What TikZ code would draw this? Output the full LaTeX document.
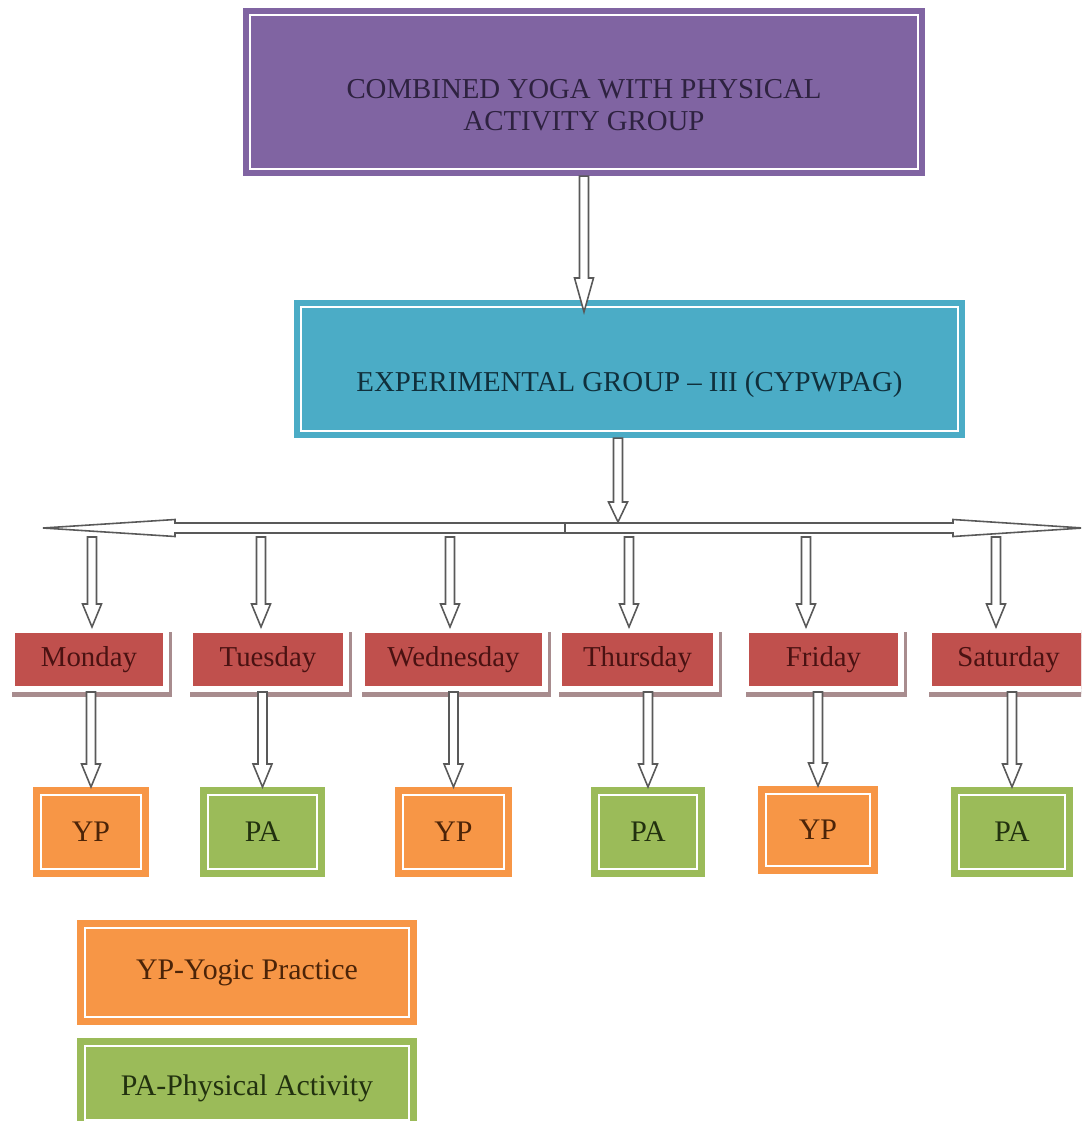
\documentclass[tikz,border=0pt]{standalone}
\usepackage{fontspec}
\setmainfont{Liberation Serif}
\usetikzlibrary{calc, shadows}

\definecolor{grouppurple}{HTML}{8064A2}
\definecolor{groupcyan}{HTML}{4BACC6}
\definecolor{dayred}{HTML}{C0504D}
\definecolor{yogaorange}{HTML}{F79646}
\definecolor{actgreen}{HTML}{9BBB59}
\definecolor{dayshadow}{HTML}{A88C8E}
\definecolor{inkpurple}{HTML}{2E2240}
\definecolor{inkcyan}{HTML}{10303C}
\definecolor{inkred}{HTML}{4A1212}
\definecolor{inkorange}{HTML}{4C2408}
\definecolor{inkgreen}{HTML}{22310F}

\newcommand{\boxfont}{\fontsize{8.2}{9.1}\selectfont}
\newcommand{\actfont}{\fontsize{8.5}{10}\selectfont}
% tall strut, pushes the text down in its box
\newcommand{\lift}[1]{\rule{0pt}{#1}}

% hollow block arrow pointing down: [head length]{start}{tip}
\newcommand{\hollowdown}[3][23]{%
  \draw[hollowarrow] ($#2+(-4.5,0)$) -- ($#3+(-4.5,-#1)$) -- ($#3+(-9.5,-#1)$) -- #3
    -- ($#3+(9.5,-#1)$) -- ($#3+(4.5,-#1)$) -- ($#2+(4.5,0)$) -- cycle;}

\tikzset{
  groupbox/.style={rectangle, draw=#1, fill=#1, double=white, line width=0.06cm,
    double distance=0.02cm, outer sep=0.07cm, inner sep=0pt, font=\boxfont},
  actbox/.style={groupbox=#1, line width=0.07cm, outer sep=0.08cm,
    minimum height=0.74cm, font=\actfont},
  yp/.style={actbox=yogaorange, text=inkorange},
  pa/.style={actbox=actgreen, text=inkgreen},
  daybox/.style={rectangle, fill=dayred, draw=white, line width=0.06cm,
    minimum height=0.59cm, inner sep=0pt, text=inkred, font=\boxfont,
    drop shadow={shadow xshift=0.03cm, shadow yshift=-0.05cm, fill=dayshadow,
      draw=dayshadow, line width=0.06cm, opacity=1}},
  hollowarrow/.style={draw=black!65, fill=white, line width=0.45pt},
}

\begin{document}
\begin{tikzpicture}[x=0.01cm, y=-0.01cm]
  \useasboundingbox (0,0) rectangle (1081,1121);
  \clip (0,0) rectangle (1081,1121);

  % group boxes
  \node[groupbox=grouppurple, minimum width=6.68cm, minimum height=1.54cm, text=inkpurple]
    (top) at (584,92) {\begin{tabular}{@{}c@{}}\lift{15.5pt}COMBINED YOGA WITH PHYSICAL\\ACTIVITY GROUP\end{tabular}};
  \node[groupbox=groupcyan, minimum width=6.57cm, minimum height=1.24cm, text=inkcyan]
    (exp) at (629.5,369) {\lift{14.8pt}EXPERIMENTAL GROUP -- III (CYPWPAG)};

  % days
  \node[daybox, minimum width=1.54cm] (mon) at (89,659.5) {Monday};
  \node[daybox, minimum width=1.56cm] (tue) at (268,659.5) {Tuesday};
  \node[daybox, minimum width=1.83cm] (wed) at (453.5,659.5) {Wednesday};
  \node[daybox, minimum width=1.57cm] (thu) at (637.5,659.5) {Thursday};
  \node[daybox, minimum width=1.55cm] (fri) at (823.5,659.5) {Friday};
  \node[daybox, minimum width=1.59cm] (sat) at (1008.5,659.5) {Saturday};

  % activities
  \node[yp, minimum width=1.00cm] (mon-act) at (91,832) {YP};
  \node[pa, minimum width=1.09cm] (tue-act) at (262.5,832) {PA};
  \node[yp, minimum width=1.01cm] (wed-act) at (453.5,832) {YP};
  \node[pa, minimum width=0.98cm] (thu-act) at (648,832) {PA};
  \node[yp, minimum width=1.04cm, minimum height=0.72cm] (fri-act) at (818,830) {YP};
  \node[pa, minimum width=1.06cm] (sat-act) at (1012,832) {PA};

  % key
  \node[yp, minimum width=3.24cm, minimum height=0.89cm] (yp-key) at (247,972.5) {YP-Yogic Practice};
  \node[pa, minimum width=3.24cm, minimum height=0.74cm] (pa-key) at (247,1083) {\lift{9.2pt}PA-Physical Activity};

  % arrows
  \coordinate (tip1) at ($(top.south |- exp.north)+(0,12)$);
  \hollowdown[34]{(top.south)}{(tip1)}

  \coordinate (hub) at (565,528);
  \coordinate (lefttip) at (43,528);
  \coordinate (righttip) at (1083,528);
  \coordinate (bar) at (618,522);
  \draw[hollowarrow] ($(hub)+(0,-5)$) -- ($(lefttip)+(132,-5)$) -- ($(lefttip)+(132,-8.5)$) -- (lefttip)
    -- ($(lefttip)+(132,8.5)$) -- ($(lefttip)+(132,5)$) -- ($(hub)+(0,5)$) -- cycle;
  \draw[hollowarrow] ($(hub)+(0,-5)$) -- ($(righttip)+(-130,-5)$) -- ($(righttip)+(-130,-8.5)$) -- (righttip)
    -- ($(righttip)+(-130,8.5)$) -- ($(righttip)+(-130,5)$) -- ($(hub)+(0,5)$) -- cycle;
  \hollowdown[20]{(bar |- exp.south)}{(bar)}

  \foreach \d/\xin in {mon/92, tue/261, wed/450, thu/629, fri/806, sat/996}
    \hollowdown{(\xin,537)}{(\xin,0 |- \d.north)};

  \foreach \d in {mon, tue, wed, thu, fri, sat}
    \hollowdown{(\d-act.north |- \d.south)}{(\d-act.north)};
\end{tikzpicture}
\end{document}
